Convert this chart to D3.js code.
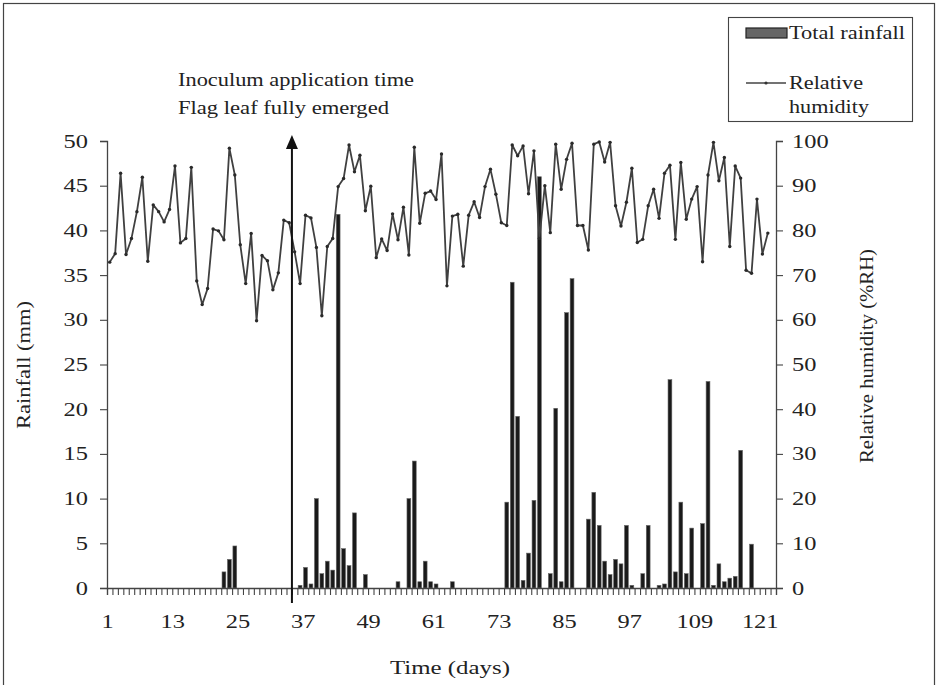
<!DOCTYPE html>
<html>
<head>
<meta charset="utf-8">
<script src="https://cdn.jsdelivr.net/npm/d3@7"></script>
<style>
  body { margin: 0; background: #fff; }
  svg { display: block; }
</style>
</head>
<body>
<div id="chart"></div>
<script>
const width = 938;
const height = 685;

// relative humidity (%), days 1..122
const humidity = [
  72.9, 74.8, 92.8, 74.6, 78.2, 84.2, 91.9, 73.1, 85.7, 84.2,
  81.9, 84.7, 94.4, 77.2, 78.2, 94.1, 68.7, 63.4, 67.0, 80.3,
  79.9, 77.9, 98.4, 92.4, 76.8, 68.1, 79.3, 59.8, 74.4, 73.2,
  66.7, 70.5, 82.3, 81.7, 75.2, 68.1, 83.4, 82.8, 76.2, 60.9,
  76.4, 78.2, 89.8, 91.6, 99.1, 93.1, 96.8, 84.4, 89.9, 73.9,
  78.1, 75.5, 83.7, 77.9, 85.2, 74.5, 98.6, 81.6, 88.3, 88.8,
  86.9, 97.1, 67.6, 83.2, 83.6, 72.0, 83.4, 86.4, 82.9, 89.8,
  93.7, 88.1, 81.7, 81.1, 99.1, 96.7, 98.9, 88.2, 97.8, 78.2,
  90.0, 79.5, 99.3, 89.2, 95.9, 99.5, 81.1, 81.1, 75.6, 99.3,
  99.8, 95.3, 99.7, 85.5, 81.0, 86.3, 93.9, 77.3, 78.0, 85.5,
  89.2, 82.7, 92.8, 94.6, 78.0, 95.2, 82.5, 87.0, 89.8, 73.0,
  92.4, 99.7, 91.1, 96.3, 76.4, 94.4, 91.7, 71.1, 70.4, 87.0,
  74.7, 79.4
];

// days with rain and the rainfall (mm) on those days
const rainDays = [
  22, 23, 24, 36, 37, 38, 39, 40, 41, 42, 43, 44, 45, 46, 48,
  54, 56, 57, 58, 59, 60, 61, 64,
  74, 75, 76, 77, 78, 79, 80, 82, 83, 84, 85, 86,
  89, 90, 91, 92, 93, 94, 95, 96, 97, 99, 100, 102, 103, 104,
  105, 106, 107, 108, 110, 111, 112, 113, 114, 115, 116, 117, 119
];
const rainfall = [
  1.8, 3.2, 4.7, 0.3, 2.3, 0.45, 10.0, 1.6, 3.0, 2.0, 41.8, 4.4, 2.5, 8.4, 1.5,
  0.7, 10.0, 14.2, 0.7, 3.0, 0.7, 0.45, 0.7,
  9.6, 34.2, 19.2, 0.85, 3.9, 9.8, 46.0, 1.6, 20.1, 0.7, 30.8, 34.6,
  7.7, 10.7, 7.0, 3.0, 1.5, 3.2, 2.7, 7.0, 0.3, 1.6, 7.0, 0.3, 0.45, 23.3,
  1.8, 9.6, 1.6, 6.7, 7.2, 23.1, 0.3, 2.7, 0.7, 1.1, 1.3, 15.4, 4.9
];

const dayLabels = [1, 13, 25, 37, 49, 61, 73, 85, 97, 109, 121];
const rainTicks = [0, 5, 10, 15, 20, 25, 30, 35, 40, 45, 50];
const humidityTicks = [0, 10, 20, 30, 40, 50, 60, 70, 80, 90, 100];
const arrowDay = 34.5;

const font = "'Liberation Serif', 'Times New Roman', serif";
const ink = "#222";

const plotLeft = 107, plotRight = 776, plotTop = 141, plotBottom = 588;

// each day is one slot; day d is centred at x(d)
const x = d3.scaleLinear().domain([0.5, 123.5]).range([plotLeft, plotRight]);
const yRain = d3.scaleLinear().domain([0, 50]).range([plotBottom, plotTop]);
const yHum = d3.scaleLinear().domain([0, 100]).range([plotBottom, plotTop]);

// the original type is wider than Liberation Serif, so stretch text to width
function widen(sel, w) {
  sel.attr("textLength", w).attr("lengthAdjust", "spacingAndGlyphs");
}

const svg = d3.select("#chart")
  .append("svg")
  .attr("width", width)
  .attr("height", height)
  .style("font-family", font);

// outer frame
svg.append("rect")
  .attr("x", 3.5).attr("y", 3.5)
  .attr("width", 931).attr("height", 700)
  .attr("fill", "none")
  .attr("stroke", "#444")
  .attr("stroke-width", 1.2);

// bars
svg.append("g")
  .selectAll("rect")
  .data(rainDays)
  .enter()
  .append("rect")
  .attr("x", function(d) { return x(d) - 1.9; })
  .attr("width", 3.8)
  .attr("y", function(d, i) { return yRain(rainfall[i]); })
  .attr("height", function(d, i) { return plotBottom - yRain(rainfall[i]); })
  .attr("fill", "#1a1a1a")
  .attr("stroke", "#666")
  .attr("stroke-width", 0.6);

// humidity line
const line = d3.line()
  .x(function(d, i) { return x(i + 1); })
  .y(function(d) { return yHum(d); });

svg.append("path")
  .datum(humidity)
  .attr("d", line)
  .attr("fill", "none")
  .attr("stroke", "#404040")
  .attr("stroke-width", 1.8)
  .attr("stroke-linejoin", "round");

svg.append("g")
  .selectAll("circle")
  .data(humidity)
  .enter()
  .append("circle")
  .attr("cx", function(d, i) { return x(i + 1); })
  .attr("cy", function(d) { return yHum(d); })
  .attr("r", 1.7)
  .attr("fill", "#2a2a2a");

// left axis
const leftAxis = svg.append("g")
  .attr("transform", "translate(" + plotLeft + ",0)")
  .call(d3.axisLeft(yRain).tickValues(rainTicks).tickSize(7).tickPadding(12));

// right axis
const rightAxis = svg.append("g")
  .attr("transform", "translate(" + plotRight + ",0)")
  .call(d3.axisRight(yHum).tickValues(humidityTicks).tickSize(7).tickPadding(9));

// bottom axis: small tick at each day boundary, labels every 12 days
const tickDays = d3.range(0, 124).map(function(k) { return k + 0.5; });
const bottomAxis = svg.append("g")
  .attr("transform", "translate(0," + plotBottom + ")")
  .call(d3.axisBottom(x).tickValues(tickDays).tickSize(7).tickFormat(""));

const labelAxis = svg.append("g")
  .attr("transform", "translate(0," + plotBottom + ")")
  .call(d3.axisBottom(x)
    .tickValues(dayLabels.map(function(d) { return d - 0.5; }))
    .tickSize(0)
    .tickPadding(27)
    .tickFormat(function(d) { return d + 0.5; }));
labelAxis.select(".domain").remove();

[leftAxis, rightAxis, bottomAxis, labelAxis].forEach(function(g) {
  g.selectAll("path.domain").attr("stroke", "#444").attr("stroke-width", 1.3);
  g.selectAll("line").attr("stroke", "#444").attr("stroke-width", 1.1);
  g.selectAll("text")
    .attr("fill", ink)
    .style("font-family", font)
    .style("font-size", "19px")
    .each(function() {
      const t = d3.select(this);
      widen(t, t.text().length * 12.2);
    });
});

// axis titles
widen(svg.append("text")
  .attr("transform", "translate(30,365) rotate(-90)")
  .attr("text-anchor", "middle")
  .attr("fill", ink)
  .style("font-size", "19px")
  .text("Rainfall (mm)"), 128);

widen(svg.append("text")
  .attr("transform", "translate(873,356) rotate(-90)")
  .attr("text-anchor", "middle")
  .attr("fill", ink)
  .style("font-size", "19px")
  .text("Relative humidity (%RH)"), 214);

widen(svg.append("text")
  .attr("x", 450)
  .attr("y", 674)
  .attr("text-anchor", "middle")
  .attr("fill", ink)
  .style("font-size", "19px")
  .text("Time (days)"), 120);

// inoculation arrow
const ax = x(arrowDay);
svg.append("line")
  .attr("x1", ax).attr("x2", ax)
  .attr("y1", 603).attr("y2", 148)
  .attr("stroke", "#111")
  .attr("stroke-width", 2);
svg.append("path")
  .attr("d", "M" + (ax - 6) + ",149 L" + ax + ",135 L" + (ax + 6) + ",149 Z")
  .attr("fill", "#111");

widen(svg.append("text")
  .attr("x", 178).attr("y", 86)
  .attr("fill", ink)
  .style("font-size", "19px")
  .text("Inoculum application time"), 236);
widen(svg.append("text")
  .attr("x", 178).attr("y", 114)
  .attr("fill", ink)
  .style("font-size", "19px")
  .text("Flag leaf fully emerged"), 211);

// legend
const legend = svg.append("g");
legend.append("rect")
  .attr("x", 728.5).attr("y", 17.5)
  .attr("width", 184).attr("height", 104)
  .attr("fill", "#fff")
  .attr("stroke", "#444")
  .attr("stroke-width", 1.1);
legend.append("rect")
  .attr("x", 746).attr("y", 28)
  .attr("width", 41).attr("height", 10)
  .attr("fill", "#666")
  .attr("stroke", "#222")
  .attr("stroke-width", 1.2);
widen(legend.append("text")
  .attr("x", 789).attr("y", 39)
  .attr("fill", ink)
  .style("font-size", "19px")
  .text("Total rainfall"), 116);
legend.append("line")
  .attr("x1", 746).attr("x2", 786)
  .attr("y1", 83).attr("y2", 83)
  .attr("stroke", "#444")
  .attr("stroke-width", 1.6);
legend.append("circle")
  .attr("cx", 766).attr("cy", 83).attr("r", 1.6)
  .attr("fill", "#333");
widen(legend.append("text")
  .attr("x", 789).attr("y", 89)
  .attr("fill", ink)
  .style("font-size", "19px")
  .text("Relative"), 74);
widen(legend.append("text")
  .attr("x", 789).attr("y", 113)
  .attr("fill", ink)
  .style("font-size", "19px")
  .text("humidity"), 80);
</script>
</body>
</html>
